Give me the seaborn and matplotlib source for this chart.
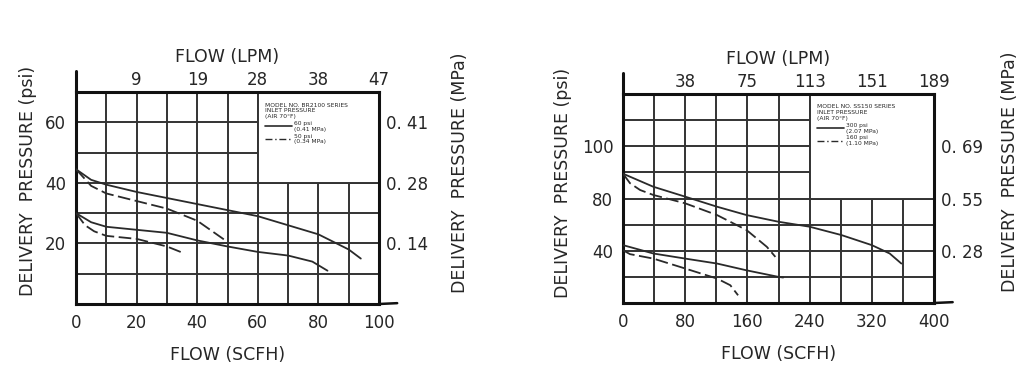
import matplotlib
matplotlib.use("Agg")
import matplotlib.pyplot as plt
import seaborn as sns
import pandas as pd
from matplotlib.patches import Rectangle
from matplotlib.lines import Line2D

sns.set_theme(style="white")
plt.rcParams['font.family'] = ['DejaVu Sans']

# ---------------- Left chart data (SCFH, psi) ----------------
L_hi_solid_x = [0, 5, 10, 20, 30, 40, 50, 60, 70, 80, 90, 94]
L_hi_solid_y = [44.5, 41, 39.4, 37, 35, 33, 31, 29, 26, 23, 18, 15]
L_hi_dash_x = [0, 5, 10, 20, 30, 40, 45, 50]
L_hi_dash_y = [44.5, 39, 36.5, 34, 31.5, 27.5, 24, 20.5]
L_lo_solid_x = [0, 5, 10, 20, 30, 40, 50, 60, 70, 78, 83]
L_lo_solid_y = [30, 27, 25.5, 24.5, 23.5, 21, 19, 17.2, 16, 14, 11]
L_lo_dash_x = [0, 3, 6, 10, 20, 30, 35]
L_lo_dash_y = [30, 26, 24, 22.5, 21.5, 19, 17]

L_bottom_ticks = [0, 20, 40, 60, 80, 100]
L_top_ticks = [20, 40, 60, 80, 100]
L_top_labels = ['9', '19', '28', '38', '47']
L_left_ticks = [20, 40, 60]
L_left_labels = ['20', '40', '60']
L_right_labels = ['0. 14', '0. 28', '0. 41']
L_legend_title = "MODEL NO. BR2100 SERIES\nINLET PRESSURE\n(AIR 70°F)"
L_legend_labels = ["60 psi\n(0.41 MPa)", "50 psi\n(0.34 MPa)"]

# ---------------- Right chart data (SCFH, psi) ----------------
R_hi_solid_x = [0, 39, 80, 121, 159, 200, 240, 281, 320, 343, 358]
R_hi_solid_y = [99, 89, 81.4, 73.7, 67.3, 62.2, 58.4, 52, 44.3, 37.9, 30.2]
R_hi_dash_x = [0, 9, 22, 39, 80, 121, 159, 185, 196]
R_hi_dash_y = [99, 91.7, 86.5, 82.7, 76.3, 67.3, 55.8, 43, 35.3]
R_lo_solid_x = [0, 39, 80, 121, 159, 200, 206]
R_lo_solid_y = [44.3, 37.9, 34, 30.2, 25, 20, 19.5]
R_lo_dash_x = [0, 9, 39, 80, 121, 138, 148]
R_lo_dash_y = [40.4, 37.4, 34, 26.4, 18.7, 13.6, 5.9]

R_bottom_ticks = [0, 80, 160, 240, 320, 400]
R_top_ticks = [80, 160, 240, 320, 400]
R_top_labels = ['38', '75', '113', '151', '189']
R_left_ticks = [40, 80, 120]
R_left_labels = ['40', '80', '100']
R_right_labels = ['0. 28', '0. 55', '0. 69']
R_legend_title = "MODEL NO. SS150 SERIES\nINLET PRESSURE\n(AIR 70°F)"
R_legend_labels = ["300 psi\n(2.07 MPa)", "160 psi\n(1.10 MPa)"]

TXT = '#262626'
GRID = '#333333'
LINE = '#2a2a2a'
FS = 12
LFS = 12.5

fig = plt.figure(figsize=(10.29, 3.81), dpi=100)
fig.patch.set_facecolor('white')


def make_chart(rect, xmax, xstep, ymax, ystep, box, series, bticks, tticks, tlabels,
               lticks, llabels, rlabels, title, leglabels, psi_x, mpa_x, psi_y, mpa_y):
    ax = fig.add_axes(rect)
    ax.set_xlim(0, xmax)
    ax.set_ylim(0, ymax)
    # grid drawn at every step
    for i in range(1, int(xmax / xstep)):
        ax.axvline(i * xstep, color=GRID, lw=1.4, zorder=1)
    for j in range(1, int(ymax / ystep)):
        ax.axhline(j * ystep, color=GRID, lw=1.4, zorder=1)
    # legend box hides the grid
    bx0, by0 = box
    ax.add_patch(Rectangle((bx0, by0), xmax - bx0, ymax - by0, facecolor='white',
                           edgecolor=GRID, lw=1.4, zorder=1.5))
    for xs, ys, dashed in series:
        df = pd.DataFrame({'x': xs, 'y': ys})
        sns.lineplot(data=df, x='x', y='y', ax=ax, color=LINE, lw=1.3, sort=False,
                     estimator=None, zorder=3,
                     linestyle=(0, (7, 2.5)) if dashed else '-')
    handles = [Line2D([], [], color=LINE, lw=1.2, linestyle='-'),
               Line2D([], [], color=LINE, lw=1.0, linestyle=(0, (5, 2, 1, 2)))]
    leg = ax.legend(handles, leglabels, title=title, loc='upper left',
                    bbox_to_anchor=(bx0 / xmax + 0.01, 0.97), frameon=False,
                    fontsize=4.3, title_fontsize=4.3, handlelength=4.5,
                    borderpad=0.2, labelspacing=0.3, handletextpad=0.3)
    leg._legend_box.align = 'left'
    leg.set_zorder(4)
    for t in leg.get_texts():
        t.set_color(TXT)
    leg.get_title().set_color(TXT)

    ax.set_xticks(bticks)
    ax.set_xticklabels([str(b) for b in bticks])
    ax.set_yticks(lticks)
    ax.set_yticklabels(llabels)
    ax.tick_params(axis='both', which='both', length=0, labelsize=FS, labelcolor=TXT, pad=7)
    ax.grid(False)
    for s in ax.spines.values():
        s.set_color('#111111')
        s.set_linewidth(2.2)
        s.set_visible(True)
    ax.set_xlabel('FLOW (SCFH)', fontsize=LFS, color=TXT, labelpad=10)
    ax.set_ylabel('DELIVERY  PRESSURE (psi)', fontsize=LFS, color=TXT)
    ax.yaxis.set_label_coords(psi_x, psi_y)

    # top axis
    axt = ax.twiny()
    axt.set_xlim(ax.get_xlim())
    axt.set_xticks(tticks)
    axt.set_xticklabels(tlabels)
    axt.tick_params(axis='x', length=0, labelsize=FS, labelcolor=TXT, pad=2)
    axt.set_xlabel('FLOW (LPM)', fontsize=LFS, color=TXT, labelpad=7)
    axt.grid(False)
    for s in axt.spines.values():
        s.set_visible(False)

    # right axis
    axr = ax.twinx()
    axr.set_ylim(ax.get_ylim())
    axr.set_yticks(lticks)
    axr.set_yticklabels(rlabels)
    axr.tick_params(axis='y', length=0, labelsize=FS, labelcolor=TXT, pad=5)
    axr.set_ylabel('DELIVERY  PRESSURE (MPa)', fontsize=LFS, color=TXT)
    axr.yaxis.set_label_coords(mpa_x, mpa_y)
    axr.grid(False)
    for s in axr.spines.values():
        s.set_visible(False)

    # left spine extends above the frame, bottom spine extends right
    ax.add_line(Line2D([0, 0], [1, 1.1], transform=ax.transAxes, color='#111111',
                       lw=2.2, clip_on=False))
    ax.add_line(Line2D([1, 1.06], [0, 0.004], transform=ax.transAxes, color='#111111',
                       lw=1.8, clip_on=False))
    return ax


# Left chart
make_chart([76 / 1029, 1 - 304 / 381, 303 / 1029, 212 / 381], 100, 10, 70, 10, (60, 40),
           [(L_hi_solid_x, L_hi_solid_y, False), (L_hi_dash_x, L_hi_dash_y, True),
            (L_lo_solid_x, L_lo_solid_y, False), (L_lo_dash_x, L_lo_dash_y, True)],
           L_bottom_ticks, L_top_ticks, L_top_labels, L_left_ticks, L_left_labels,
           L_right_labels, L_legend_title, L_legend_labels,
           psi_x=-0.128, mpa_x=1.236, psi_y=0.58, mpa_y=0.62)

# Right chart
make_chart([623 / 1029, 1 - 303 / 381, 311 / 1029, 209 / 381], 400, 40, 160, 20, (240, 80),
           [(R_hi_solid_x, R_hi_solid_y, False), (R_hi_dash_x, R_hi_dash_y, True),
            (R_lo_solid_x, R_lo_solid_y, False), (R_lo_dash_x, R_lo_dash_y, True)],
           R_bottom_ticks, R_top_ticks, R_top_labels, R_left_ticks, R_left_labels,
           R_right_labels, R_legend_title, R_legend_labels,
           psi_x=-0.163, mpa_x=1.216, psi_y=0.574, mpa_y=0.627)

fig.savefig('out.png', dpi=100, facecolor='white')
